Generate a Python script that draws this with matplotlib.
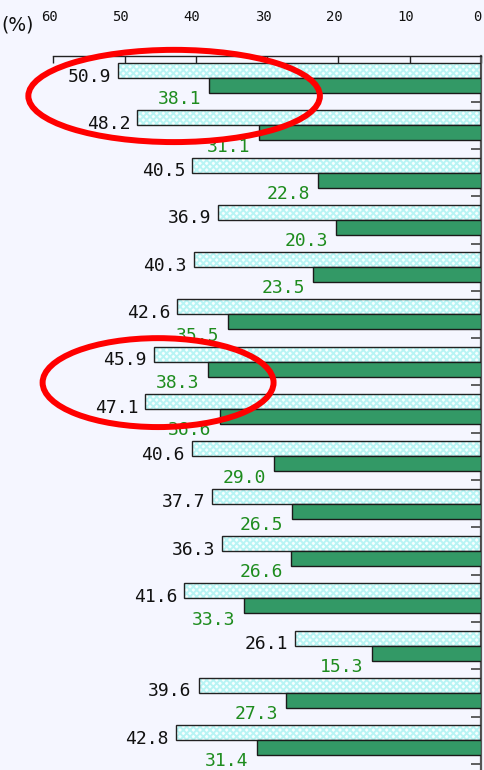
import numpy as np
import matplotlib
matplotlib.use("Agg")
import matplotlib.pyplot as plt
from matplotlib.patches import Ellipse
import matplotlib.transforms as mtransforms

# ---- data ----
light_values = [50.9, 48.2, 40.5, 36.9, 40.3, 42.6, 45.9, 47.1, 40.6, 37.7, 36.3, 41.6, 26.1, 39.6, 42.8]
dark_values = [38.1, 31.1, 22.8, 20.3, 23.5, 35.5, 38.3, 36.6, 29.0, 26.5, 26.6, 33.3, 15.3, 27.3, 31.4]
x_ticks = [0, 10, 20, 30, 40, 50, 60]
x_tick_labels = ["0", "10", "20", "30", "40", "50", "60"]
unit_label = "(%)"

BG = "#F5F6FF"
DARK_GREEN = "#339966"
TEXT_GREEN = "#1E8C1E"
plt.rcParams["hatch.linewidth"] = 1.4

fig = plt.figure(figsize=(4.85, 7.70), dpi=100, facecolor=BG)
ax = fig.add_axes([53.3 / 485, 0.0, (481 - 53.3) / 485, 1 - 56 / 770])
ax.set_facecolor(BG)

n = len(light_values)
y = np.arange(n)
bh = 15 / 47.3

# light bars: hatch layer then outline layer
ax.barh(y - bh / 2, light_values, height=bh, color="#F6FFFF", edgecolor="#B8F4F4",
        linewidth=0, hatch="xxxxx", zorder=2)
ax.barh(y - bh / 2, light_values, height=bh, fill=False, edgecolor="#222222",
        linewidth=1.0, zorder=3)
# dark bars
ax.barh(y + bh / 2, dark_values, height=bh, color=DARK_GREEN, edgecolor="#1a1a1a",
        linewidth=1.0, zorder=3)

for i, (lv, dv) in enumerate(zip(light_values, dark_values)):
    ax.text(lv + 1.0, i - 0.03, f"{lv:.1f}", ha="right", va="center",
            fontsize=13, family="DejaVu Sans Mono", color="#111111", zorder=5)
    ax.text(dv + 1.2, i + 0.45, f"{dv:.1f}", ha="right", va="center",
            fontsize=13, family="DejaVu Sans Mono", color=TEXT_GREEN, zorder=5)

ax.set_xlim(60, 0)
ax.set_ylim(14.63, -0.465)

# top axis
ax.xaxis.tick_top()
ax.set_xticks(x_ticks)
ax.set_xticklabels(x_tick_labels, family="DejaVu Sans Mono")
ax.tick_params(axis="x", direction="in", length=5, width=1, color="#222222",
               pad=23, labelsize=10, labelcolor="#111111")
offset = mtransforms.ScaledTranslation(-4 / 100, 0, fig.dpi_scale_trans)
for lab in ax.get_xticklabels():
    lab.set_transform(lab.get_transform() + offset)

# right axis ticks at group boundaries
ax.yaxis.tick_right()
ax.set_yticks(y + 0.5)
ax.set_yticklabels([])
ax.tick_params(axis="y", direction="in", length=7, width=1.2, color="#444444")

for side in ["left", "bottom"]:
    ax.spines[side].set_visible(False)
ax.spines["top"].set_color("#222222")
ax.spines["top"].set_linewidth(1.0)
ax.spines["right"].set_color("#555555")
ax.spines["right"].set_linewidth(1.6)

# red highlight ellipses
for (cx, cy, w, h) in [(43.05, 0.38, 40.9, 1.95), (45.3, 6.44, 32.4, 1.88)]:
    ax.add_patch(Ellipse((cx, cy), w, h, fill=False, edgecolor="#FF0000",
                         linewidth=4.3, zorder=6, clip_on=False))

fig.text(18 / 485, 1 - 25 / 770, unit_label, ha="center", va="center",
         fontsize=13.5, color="#111111")

fig.savefig("out.png", dpi=100, facecolor=BG)
